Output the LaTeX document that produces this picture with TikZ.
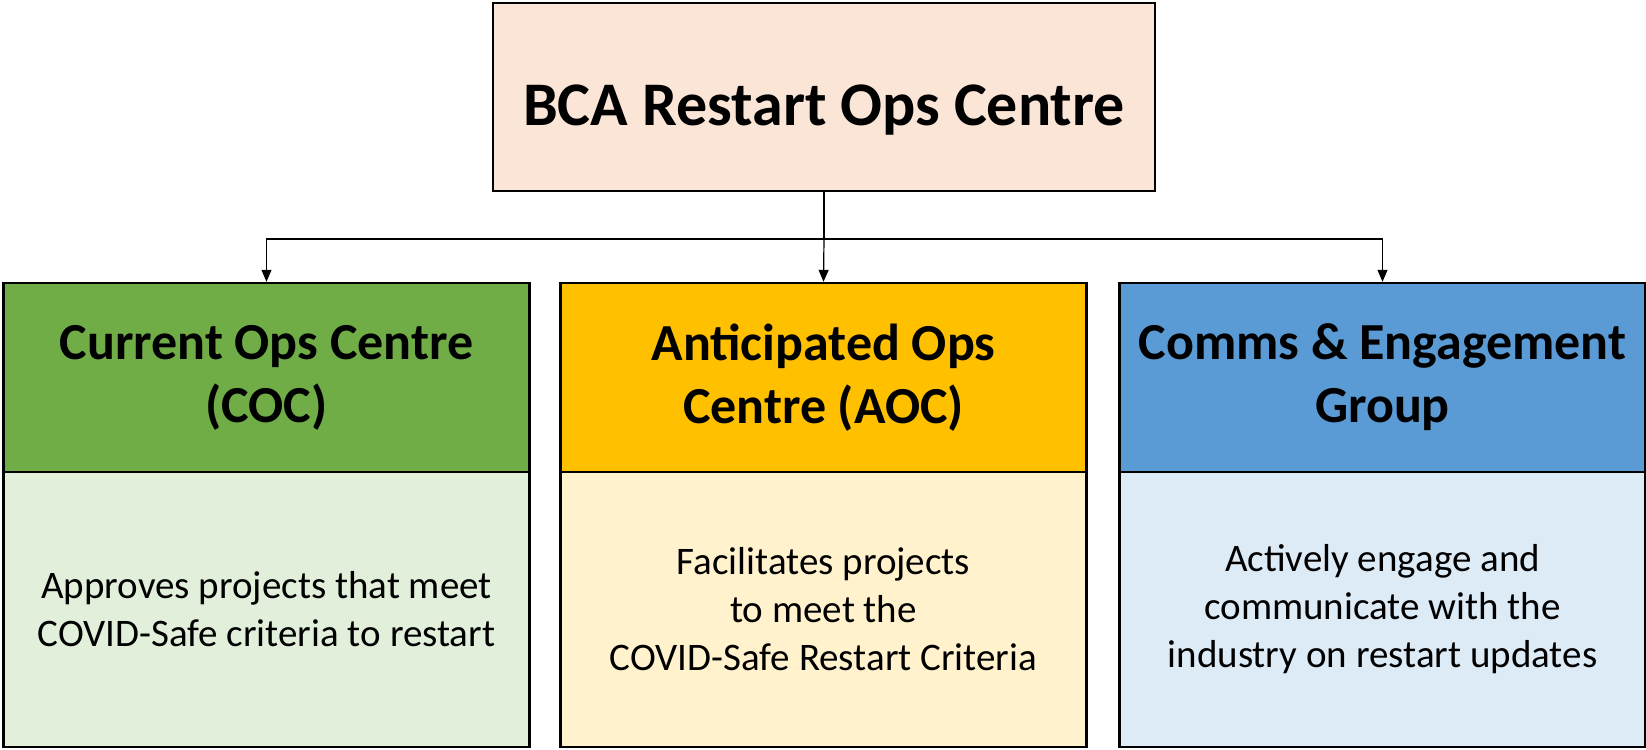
\documentclass[tikz,border=0pt]{standalone}
\usepackage{fontspec}
\setmainfont{Carlito}
\usetikzlibrary{positioning,arrows.meta,calc}
\definecolor{peach}{HTML}{FBE5D6}
\definecolor{leaf}{HTML}{70AD47}
\definecolor{leaflight}{HTML}{E2EFDA}
\definecolor{gold}{HTML}{FFC000}
\definecolor{goldlight}{HTML}{FFF2CC}
\definecolor{sky}{HTML}{5B9BD5}
\definecolor{skylight}{HTML}{DDEBF7}
\tikzset{
  box/.style={draw=black, line width=1.2pt, align=center, inner sep=0pt},
  headbox/.style={box, minimum width=263pt, minimum height=94.5pt,
    font=\fontsize{26}{31.5}\selectfont\bfseries},
  bodybox/.style={box, minimum width=263pt, minimum height=137.5pt,
    font=\fontsize{19.5}{24}\selectfont},
  link/.style={line width=0.6pt, -{Triangle[length=6pt,width=5pt]}}
}

\begin{document}
\begin{tikzpicture}[x=0.5pt, y=-0.5pt]
  \useasboundingbox (0,0) rectangle (1646,750);
  \node[box, fill=peach, minimum width=331pt, minimum height=94pt,
    text height=28pt, text depth=0pt,
    font=\fontsize{31}{37}\selectfont\bfseries] (boc) at (824,97) {BCA Restart Ops Centre};
  \foreach \name/\x/\hc/\bc/\head/\body in {
    coc/266.5/leaf/leaflight/{Current Ops Centre\\(COC)}/{Approves projects that meet\\COVID-Safe criteria to restart},
    aoc/823.5/gold/goldlight/{Anticipated Ops\\Centre (AOC)}/{Facilitates projects\\to meet the\\COVID-Safe Restart Criteria},
    ceg/1382.5/sky/skylight/{Comms \& Engagement\\Group}/{Actively engage and\\communicate with the\\industry on restart updates}} {
    \node[headbox, fill=\hc] (\name) at (\x,377.5) {\head};
    \node[bodybox, fill=\bc] (\name-txt) at (\x,609.5) {\body};
  }
  \coordinate (split) at (boc.south |- 0,239);
  \draw[line width=0.6pt] (boc.south) -- (split);
  \draw[link] (split) -- (aoc.north);
  \draw[link] (split) -| (coc.north);
  \draw[link] (split) -| (ceg.north);
\end{tikzpicture}
\end{document}
